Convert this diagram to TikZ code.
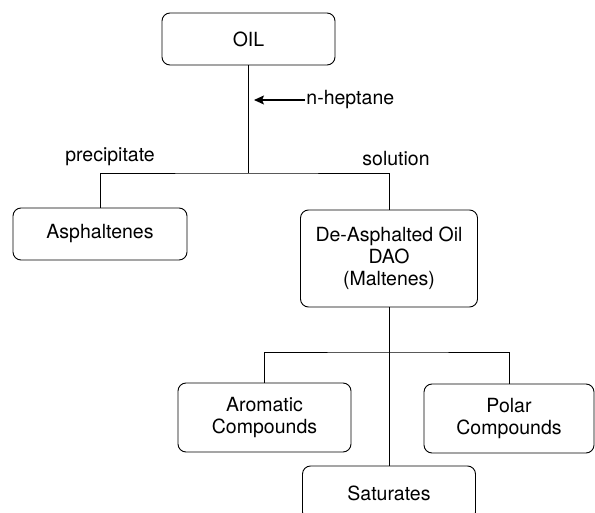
\documentclass[tikz,border=0pt]{standalone}
\usepackage{fontspec}
\setmainfont{TeX Gyre Heros}
\usetikzlibrary{arrows.meta}
\begin{document}
\begin{tikzpicture}[x=1bp, y=-1bp, line width=0.9bp,
  every node/.style={font=\fontsize{19.5bp}{22bp}\selectfont},
  box/.style={draw=black, rounded corners=8bp, align=center, inner sep=0pt}]
\useasboundingbox (0,0) rectangle (595,513);

\node[box, minimum width=173bp, minimum height=52bp] (OIL) at (248.5,39) {OIL};
\node[box, minimum width=174bp, minimum height=52bp] (ASPH) at (100,234) {Asphaltenes};
\node[box, minimum width=177bp, minimum height=97bp] (DAO) at (389,258.5) {De-Asphalted Oil\\DAO\\(Maltenes)};
\node[box, minimum width=173bp, minimum height=69bp] (AROM) at (264.5,417.5) {Aromatic\\Compounds};
\node[box, minimum width=170bp, minimum height=69bp] (POL) at (509,418.5) {Polar\\Compounds};
\node[box, minimum width=173bp, minimum height=54bp] (SAT) at (389,493) {Saturates};

\coordinate (split) at (248.5,173);
\coordinate (fork) at (389,352);
\coordinate (tip) at (254,100);

\node[anchor=west, inner sep=1bp] (HEP) at (305,100) {n-heptane};
\node (PREC) at (110,157) {precipitate};
\node (SOL) at (396,159) {solution};

\draw (OIL) -- (split);
\draw (ASPH.north) |- (split) -| (DAO.north);
\draw[line width=1.2bp, -{Stealth[length=10bp, width=9bp, inset=2bp]}] (HEP.west) -- (tip);

\draw (DAO) -- (SAT);
\draw (AROM.north) |- (fork) -| (POL.north);

\end{tikzpicture}
\end{document}
